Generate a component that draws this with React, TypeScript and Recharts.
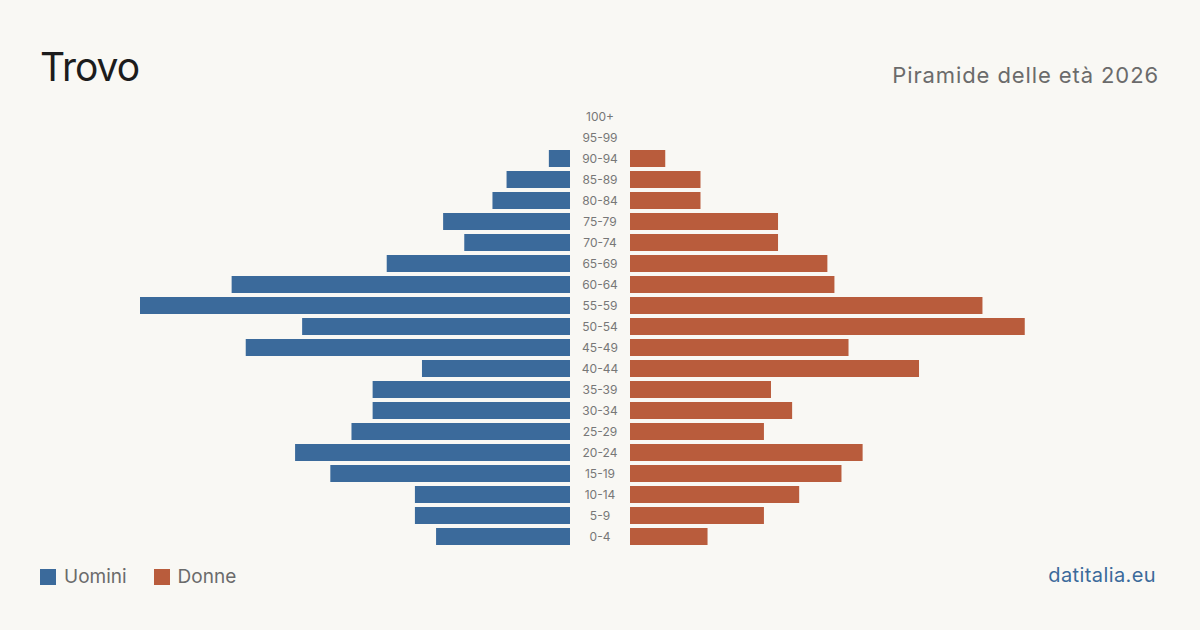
import React from 'react';
import { BarChart, Bar, XAxis, YAxis } from 'recharts';

const ageGroups = [
  '100+', '95-99', '90-94', '85-89', '80-84', '75-79', '70-74', '65-69', '60-64', '55-59', '50-54',
  '45-49', '40-44', '35-39', '30-34', '25-29', '20-24', '15-19', '10-14', '5-9', '0-4',
];
const men = [0, 0, 3, 9, 11, 18, 15, 26, 48, 61, 38, 46, 21, 28, 28, 31, 39, 34, 22, 22, 19];
const women = [0, 0, 5, 10, 10, 21, 21, 28, 29, 50, 56, 31, 41, 20, 23, 19, 33, 30, 24, 19, 11];

const data = ageGroups.map((age, i) => ({ age, men: men[i], women: women[i] }));

const BLUE = '#3b6a9b';
const ORANGE = '#b95c3c';
const FONT = 'Inter, "Noto Sans", sans-serif';
const MAX = 61;
const CHART_H = 441;

function AgeTick({ y, payload }: any) {
  return (
    <text x={460} y={y} textAnchor="middle" dominantBaseline="central" fontSize={12} fill="#777" fontFamily={FONT}>
      {payload.value}
    </text>
  );
}

export default function App() {
  return (
    <div style={{ position: 'absolute', left: 0, top: 0, width: 1200, height: 630, background: '#f9f8f4', fontFamily: FONT, overflow: 'hidden' }}>
      <div style={{ position: 'absolute', left: 40, top: 47, fontSize: 39, letterSpacing: -1, color: '#1c1c1c', lineHeight: 1 }}>Trovo</div>
      <div style={{ position: 'absolute', right: 41, top: 64, fontSize: 22, letterSpacing: 0.9, color: '#6b6b6b', lineHeight: 1 }}>Piramide delle età 2026</div>

      <div style={{ position: 'absolute', left: 140, top: 106 }}>
        <BarChart width={490} height={CHART_H} data={data} layout="vertical" margin={{ top: 0, right: 0, bottom: 0, left: 0 }} barCategoryGap={2}>
          <XAxis type="number" domain={[0, MAX]} reversed hide />
          <YAxis type="category" dataKey="age" orientation="right" width={60} axisLine={false} tickLine={false} interval={0} tick={<AgeTick />} />
          <Bar dataKey="men" fill={BLUE} isAnimationActive={false} />
        </BarChart>
      </div>

      <div style={{ position: 'absolute', left: 630, top: 106 }}>
        <BarChart width={430} height={CHART_H} data={data} layout="vertical" margin={{ top: 0, right: 0, bottom: 0, left: 0 }} barCategoryGap={2}>
          <XAxis type="number" domain={[0, MAX]} hide />
          <YAxis type="category" dataKey="age" hide />
          <Bar dataKey="women" fill={ORANGE} isAnimationActive={false} />
        </BarChart>
      </div>

      <div style={{ position: 'absolute', left: 40, top: 567, display: 'flex', alignItems: 'center', fontSize: 19, color: '#6b6b6b', lineHeight: 1 }}>
        <span style={{ width: 16, height: 16, background: BLUE, display: 'inline-block', marginRight: 8 }} />
        <span style={{ marginRight: 27 }}>Uomini</span>
        <span style={{ width: 16, height: 16, background: ORANGE, display: 'inline-block', marginRight: 8 }} />
        <span>Donne</span>
      </div>
      <div style={{ position: 'absolute', right: 44, top: 565, fontSize: 20, letterSpacing: 0.4, color: BLUE, lineHeight: 1 }}>datitalia.eu</div>
    </div>
  );
}
